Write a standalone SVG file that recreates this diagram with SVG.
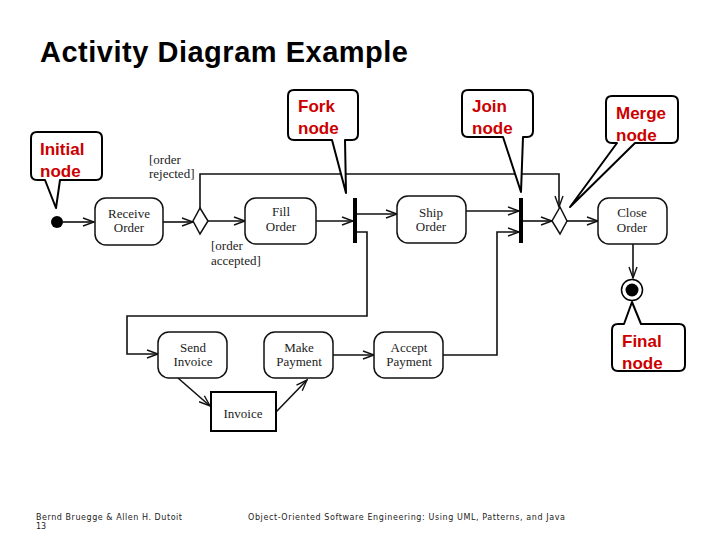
<svg xmlns="http://www.w3.org/2000/svg" width="720" height="540" viewBox="0 0 720 540">
<style>
.act{fill:#fff;stroke:#111;stroke-width:1.5}
.lbl{font-family:"Liberation Serif","Times New Roman",serif;font-size:13px;fill:#222}
.ctr{text-anchor:middle}
.con{fill:none;stroke:#111;stroke-width:1.6}
.call{fill:#fff;stroke:#000;stroke-width:2;stroke-linejoin:round}
.ctext{font-family:"Liberation Sans",Arial,sans-serif;font-weight:bold;font-size:17px;fill:#cc0000}
.foot{font-family:"DejaVu Sans",Verdana,sans-serif;font-size:8px;fill:#222}
</style>
<defs>
<marker id="arr" markerUnits="userSpaceOnUse" markerWidth="14" markerHeight="12" refX="12" refY="5" orient="auto" viewBox="0 0 14 10">
<path d="M1,1 L12,5 L1,9" fill="none" stroke="#111" stroke-width="1.4"/>
</marker>
</defs>
<rect width="720" height="540" fill="#fff"/>
<text x="40" y="62" font-family="'Liberation Sans',Arial,sans-serif" font-weight="bold" font-size="29" textLength="368" fill="#000">Activity Diagram Example</text>

<g id="connectors">
<path class="con" d="M63,222 H94" marker-end="url(#arr)"/>
<path class="con" d="M163,222 H193" marker-end="url(#arr)"/>
<path class="con" d="M208,221 H245" marker-end="url(#arr)"/>
<path class="con" d="M200,208 V174 H559 V207" marker-end="url(#arr)"/>
<path class="con" d="M316,221 H353" marker-end="url(#arr)"/>
<path class="con" d="M357,214 H397" marker-end="url(#arr)"/>
<path class="con" d="M357,232 H367 V316 H127 V354 H158" marker-end="url(#arr)"/>
<path class="con" d="M466,211 H519" marker-end="url(#arr)"/>
<path class="con" d="M443,355 H497 V232 H519" marker-end="url(#arr)"/>
<path class="con" d="M523,221 H552" marker-end="url(#arr)"/>
<path class="con" d="M567,221 H598" marker-end="url(#arr)"/>
<path class="con" d="M633,244 V278" marker-end="url(#arr)"/>
<path class="con" d="M178,378 L210,406" marker-end="url(#arr)"/>
<path class="con" d="M276,412 L307,380" marker-end="url(#arr)"/>
<path class="con" d="M333,355 H374" marker-end="url(#arr)"/>
</g>

<g id="initial"><circle cx="57" cy="222" r="6" fill="#000"/></g>
<g id="receiveOrder"><rect class="act" x="95" y="198" width="68" height="47" rx="11"/>
<text class="lbl ctr" x="129" y="218">Receive</text><text class="lbl ctr" x="129" y="232">Order</text></g>
<g id="decision"><path class="act" d="M200,208 L208,221 L200,234 L193,221 Z"/></g>
<g id="fillOrder"><rect class="act" x="245" y="198" width="71" height="46" rx="11"/>
<text class="lbl ctr" x="281" y="216">Fill</text><text class="lbl ctr" x="281" y="231">Order</text></g>
<g id="fork"><rect x="353" y="198" width="4" height="45" fill="#000"/></g>
<g id="shipOrder"><rect class="act" x="397" y="196" width="69" height="47" rx="11"/>
<text class="lbl ctr" x="431" y="217">Ship</text><text class="lbl ctr" x="431" y="231">Order</text></g>
<g id="join"><rect x="519" y="198" width="4" height="45" fill="#000"/></g>
<g id="merge"><path class="act" d="M560,207 L567,221 L560,234 L552,221 Z"/></g>
<g id="closeOrder"><rect class="act" x="598" y="198" width="69" height="46" rx="11"/>
<text class="lbl ctr" x="632" y="217">Close</text><text class="lbl ctr" x="632" y="232">Order</text></g>
<g id="final"><circle cx="632" cy="290" r="10.5" fill="#fff" stroke="#000" stroke-width="1.5"/><circle cx="632" cy="290" r="6.5" fill="#000"/></g>
<g id="sendInvoice"><rect class="act" x="158" y="332" width="69" height="46" rx="11"/>
<text class="lbl ctr" x="193" y="352">Send</text><text class="lbl ctr" x="193" y="366">Invoice</text></g>
<g id="makePayment"><rect class="act" x="264" y="332" width="69" height="46" rx="11"/>
<text class="lbl ctr" x="299" y="352">Make</text><text class="lbl ctr" x="299" y="366">Payment</text></g>
<g id="acceptPayment"><rect class="act" x="374" y="332" width="69" height="46" rx="11"/>
<text class="lbl ctr" x="409" y="352">Accept</text><text class="lbl ctr" x="409" y="366">Payment</text></g>
<g id="invoice"><rect x="211" y="392" width="65" height="39" fill="#fff" stroke="#000" stroke-width="2"/>
<text class="lbl ctr" x="243" y="418">Invoice</text></g>

<g id="guards">
<text class="lbl" x="149" y="164">[order</text><text class="lbl" x="149" y="178">rejected]</text>
<text class="lbl" x="211" y="250">[order</text><text class="lbl" x="211" y="265">accepted]</text>
</g>

<g id="callInitial"><path class="call" d="M37,132 H96 Q102,132 102,138 V174 Q102,180 96,180 H60 L56,208 L45,180 H37 Q31,180 31,174 V138 Q31,132 37,132 Z"/>
<text class="ctext" x="40" y="155">Initial</text><text class="ctext" x="40" y="177">node</text></g>
<g id="callFork"><path class="call" d="M294,90 H352 Q358,90 358,96 V134 Q358,140 352,140 H345 L346,193 L332,140 H294 Q288,140 288,134 V96 Q288,90 294,90 Z"/>
<text class="ctext" x="298" y="112">Fork</text><text class="ctext" x="298" y="134">node</text></g>
<g id="callJoin"><path class="call" d="M468,90 H527 Q533,90 533,96 V131 Q533,137 527,137 H523 L521,192 L503,137 H468 Q462,137 462,131 V96 Q462,90 468,90 Z"/>
<text class="ctext" x="472" y="112">Join</text><text class="ctext" x="472" y="134">node</text></g>
<g id="callMerge"><path class="call" d="M612,96 H672 Q678,96 678,102 V137 Q678,143 672,143 H635 L570,207 L617,143 H612 Q606,143 606,137 V102 Q606,96 612,96 Z"/>
<text class="ctext" x="616" y="119">Merge</text><text class="ctext" x="616" y="141">node</text></g>
<g id="callFinal"><path class="call" d="M618,324 H624 L632,302 L641,324 H679 Q685,324 685,330 V365 Q685,371 679,371 H618 Q612,371 612,365 V330 Q612,324 618,324 Z"/>
<text class="ctext" x="622" y="347">Final</text><text class="ctext" x="622" y="369">node</text></g>

<g id="footer">
<text class="foot" x="36" y="520" textLength="146">Bernd Bruegge &amp; Allen H. Dutoit</text>
<text class="foot" x="36" y="529">13</text>
<text class="foot" x="248" y="520" textLength="317">Object-Oriented Software Engineering: Using UML, Patterns, and Java</text>
</g>
</svg>
